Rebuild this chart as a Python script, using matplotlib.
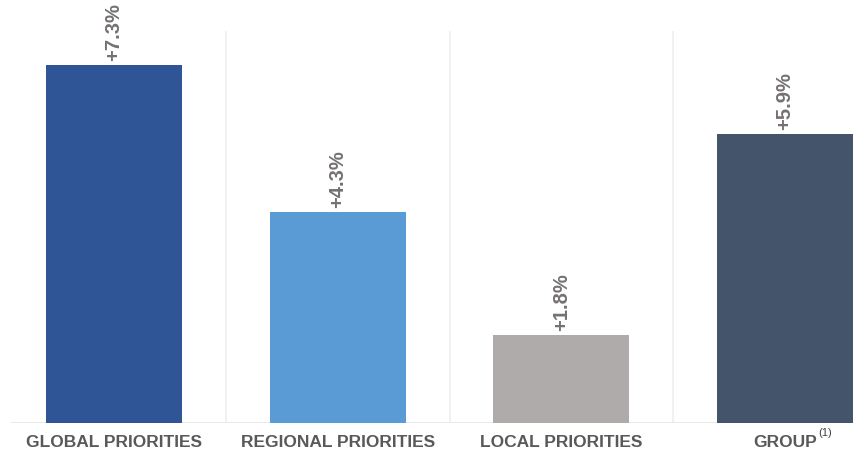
import matplotlib
matplotlib.use("Agg")
import matplotlib.pyplot as plt

categories = ["GLOBAL PRIORITIES", "REGIONAL PRIORITIES", "LOCAL PRIORITIES", "GROUP"]
values = [7.3, 4.3, 1.8, 5.9]
labels = ["+7.3%", "+4.3%", "+1.8%", "+5.9%"]
colors = ["#2F5597", "#5B9BD5", "#AFABAB", "#44546A"]

W, H = 856, 452
fig = plt.figure(figsize=(W / 100, H / 100), dpi=100)
# axes in pixel terms: baseline y=424, 49 px per unit
step = 223.5
x0 = 114 - 0.5 * step
ax = fig.add_axes([x0 / W, (H - 424) / H, (853 - x0) / W, 392 / H])
ax.set_xlim(-0.5, 3 + 68 / step)
ax.set_ylim(0, 8.0)

x = range(len(values))
ax.bar(x, values, width=136 / step, color=colors, zorder=2)

# separators and baseline
for sx in [0.5, 1.5, 2.5]:
    ax.plot([sx, sx], [0, (424 - 30) / 49], color="#EFEFEF", lw=1.2, zorder=1)
ax.axhline(0, xmin=10 / (853 - x0), color="#E6E6E6", lw=1.2, zorder=1)

for i, (v, lab) in enumerate(zip(values, labels)):
    ax.annotate(lab, (i, v), xytext=(0, 3.5), textcoords="offset points",
                rotation=90, ha="center", va="bottom", fontsize=14.5,
                fontweight="bold", color="#767171", family="Liberation Sans")

ax.set_xticks(list(x))
ax.set_xticklabels([])
for i, c in enumerate(categories):
    ax.text(i, -0.23, c, ha="center", va="top", fontsize=12.5, fontweight="bold",
            color="#595959", family="Liberation Sans")
    if c == "GROUP":
        ax.text(i + 0.148, -0.08, "(1)", ha="left", va="top", fontsize=8,
                color="#404040", family="Liberation Sans")

ax.tick_params(length=0)
ax.set_yticks([])
for s in ax.spines.values():
    s.set_visible(False)

fig.savefig("out.png", dpi=100)
